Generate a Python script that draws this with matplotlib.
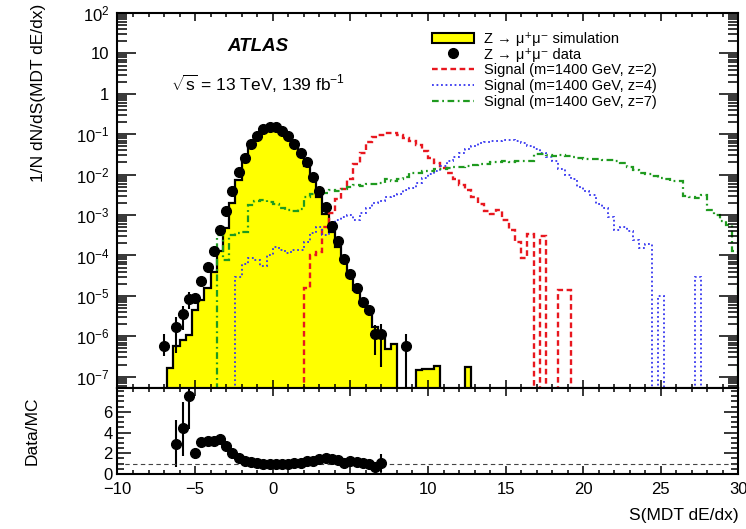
import numpy as np
import matplotlib.pyplot as plt
from matplotlib.ticker import LogLocator, MultipleLocator, FixedLocator, FuncFormatter, NullFormatter
from matplotlib.patches import Patch
from matplotlib.lines import Line2D

plt.rcParams['font.family'] = ['Liberation Sans', 'DejaVu Sans']
plt.rcParams['mathtext.fontset'] = 'custom'
plt.rcParams['mathtext.rm'] = 'Liberation Sans'
plt.rcParams['mathtext.it'] = 'Liberation Sans:italic'
plt.rcParams['mathtext.bf'] = 'Liberation Sans:bold'

# 100 bins from -10 to 30
edges = np.linspace(-10, 30, 101)

# Z -> mumu simulation, first bin starts at S = -6.8
mc_start = -6.8
mc_vals = [1.6e-7, 5.8e-7, 8.1e-7, 1.1e-6, 4.4e-6, 7.8e-6, 1.6e-5, 4.0e-5,
           1.26e-4, 4.7e-4, 2.0e-3, 7.4e-3, 0.0204, 0.049, 0.087, 0.132,
           0.155, 0.155, 0.123, 0.091, 0.054, 0.032, 0.0166, 7.2e-3,
           2.75e-3, 1.07e-3, 3.8e-4, 1.66e-4, 7.7e-5, 2.9e-5, 1.4e-5, 6.8e-6,
           4.7e-6, 1.67e-6, 1.06e-6, 4.8e-7, 6.3e-7, 0, 0, 0,
           1.48e-7, 1.58e-7, 1.58e-7, 1.86e-7, 0, 0, 0, 0, 1.78e-7]

# Z -> mumu data, first bin starts at S = -7.2
data_start = -7.2
data_vals = [5.8e-7, 0, 1.7e-6, 3.6e-6, 8.3e-6, 9.1e-6, 2.4e-5, 5.1e-5,
             1.29e-4, 4.2e-4, 1.29e-3, 4.0e-3, 0.0115, 0.0263, 0.056, 0.091,
             0.132, 0.151, 0.151, 0.120, 0.091, 0.056, 0.035, 0.020,
             8.9e-3, 4.0e-3, 1.62e-3, 5.5e-4, 2.3e-4, 8.1e-5, 3.5e-5, 1.6e-5,
             7.1e-6, 4.5e-6, 1.17e-6, 1.17e-6, 0, 0, 0, 5.8e-7]
data_err_lo = [0.45, 0, 0.77, 0.61, 0.43, 0.28, 0.12, 0.06,
               0.03, 0.02, 0.01, 0.01, 0.01, 0.01, 0.01, 0.01,
               0.01, 0.01, 0.01, 0.01, 0.01, 0.01, 0.01, 0.01,
               0.01, 0.01, 0.02, 0.03, 0.04, 0.06, 0.08, 0.12,
               0.15, 0.2, 0.7, 0.85, 0, 0, 0, 0.999]
data_err_hi = [1.0, 0, 0.79, 0.57, 0.5, 0.2, 0.12, 0.06,
               0.03, 0.02, 0.01, 0.01, 0.01, 0.01, 0.01, 0.01,
               0.01, 0.01, 0.01, 0.01, 0.01, 0.01, 0.01, 0.01,
               0.01, 0.01, 0.02, 0.03, 0.04, 0.06, 0.08, 0.12,
               0.15, 0.2, 0.62, 0.75, 0, 0, 0, 1.0]

# signal m=1400 GeV, z=2
sig2_start = 2.0
sig2_vals = [1.6e-5, 1.0e-4, 1.2e-4, 5.0e-4, 1.1e-3, 2.5e-3, 4.5e-3, 7.9e-3,
             0.018, 0.035, 0.063, 0.085, 0.098, 0.105, 0.105, 0.095,
             0.083, 0.068, 0.054, 0.038, 0.026, 0.019, 0.015, 0.0112,
             7.6e-3, 5.6e-3, 4.2e-3, 2.8e-3, 1.9e-3, 1.26e-3, 1.07e-3, 1.32e-3,
             7.6e-4, 4.2e-4, 2.2e-4, 8.9e-5, 3.4e-4, 0, 3.1e-4, 0,
             0, 1.4e-5, 1.4e-5]

# signal m=1400 GeV, z=4
sig4_start = -2.4
sig4_vals = [2.95e-5, 6.3e-5, 8.9e-5, 7.9e-5, 5.6e-5, 1.0e-4, 1.66e-4, 1.4e-4,
             1.12e-4, 1.4e-4, 1.4e-4, 2.2e-4, 3.5e-4, 5.0e-4, 3.2e-4, 4.5e-4,
             7.6e-4, 8.9e-4, 1.0e-3, 7.6e-4, 1.12e-3, 1.5e-3, 2.0e-3, 2.2e-3,
             2.8e-3, 3.0e-3, 3.4e-3, 4.2e-3, 4.8e-3, 6.3e-3, 8.3e-3, 0.0105,
             0.0126, 0.0166, 0.022, 0.028, 0.034, 0.044, 0.052, 0.060,
             0.065, 0.068, 0.069, 0.071, 0.071, 0.068, 0.060, 0.050,
             0.042, 0.035, 0.028, 0.022, 0.014, 0.010, 7.6e-3, 5.0e-3,
             4.0e-3, 3.2e-3, 1.9e-3, 1.5e-3, 8.9e-4, 4.2e-4, 5.0e-4, 4.0e-4,
             2.4e-4, 1.5e-4, 1.9e-4, 0, 1.0e-5, 0, 0, 0,
             0, 0, 2.95e-5]

# signal m=1400 GeV, z=7
sig7_start = -3.6
sig7_vals = [3.2e-4, 7.9e-5, 3.2e-4, 3.5e-4, 3.8e-4, 1.8e-3, 2.2e-3, 2.3e-3,
             2.1e-3, 1.9e-3, 1.5e-3, 1.3e-3, 1.26e-3, 1.4e-3, 2.8e-3, 3.3e-3,
             3.6e-3, 3.5e-3, 4.2e-3, 4.0e-3, 4.5e-3, 5.0e-3, 5.4e-3, 5.2e-3,
             5.8e-3, 6.0e-3, 6.3e-3, 7.6e-3, 7.1e-3, 7.9e-3, 8.9e-3, 0.0107,
             0.0112, 0.0126, 0.0126, 0.0135, 0.0138, 0.0145, 0.0151, 0.0158,
             0.0166, 0.017, 0.0182, 0.0182, 0.020, 0.0204, 0.022, 0.021,
             0.022, 0.0214, 0.022, 0.032, 0.0316, 0.030, 0.0295, 0.030,
             0.029, 0.027, 0.0257, 0.025, 0.024, 0.0245, 0.023, 0.0234,
             0.022, 0.019, 0.0151, 0.0132, 0.0112, 0.0105, 9.3e-3, 8.5e-3,
             7.8e-3, 7.1e-3, 6.9e-3, 3.0e-3, 2.8e-3, 2.6e-3, 3.2e-3, 1.3e-3,
             9.8e-4, 7.1e-4, 5.6e-4, 1.3e-4]

legend_labels = ['Z → μ⁺μ⁻ simulation', 'Z → μ⁺μ⁻ data',
                 'Signal (m=1400 GeV, z=2)', 'Signal (m=1400 GeV, z=4)',
                 'Signal (m=1400 GeV, z=7)']

TINY = 1e-12


def to_bins(start, vals):
    h = np.zeros(len(edges) - 1)
    i0 = int(round((start - edges[0]) / (edges[1] - edges[0])))
    h[i0:i0 + len(vals)] = vals
    return h


mc = to_bins(mc_start, mc_vals)
data = to_bins(data_start, data_vals)
dlo = to_bins(data_start, data_err_lo)
dhi = to_bins(data_start, data_err_hi)
sig2 = to_bins(sig2_start, sig2_vals)
sig4 = to_bins(sig4_start, sig4_vals)
sig7 = to_bins(sig7_start, sig7_vals)
centers = 0.5 * (edges[1:] + edges[:-1])

red = '#e8171f'
blue = '#3535f0'
green = '#1f9a1f'
red_ls = (0, (2.4, 1.5))
blue_ls = (0, (1, 1.5))
green_ls = (0, (3, 1.6, 0.8, 1.6))

fig = plt.figure(figsize=(7.46, 5.29), dpi=100)
ax1 = fig.add_axes([0.1575, 0.2665, 0.8324, 0.7089])
ax2 = fig.add_axes([0.1575, 0.1040, 0.8324, 0.1626], sharex=ax1)

ax1.set_yscale('log')
mcp = np.where(mc > 0, mc, TINY)
ax1.stairs(mcp, edges, fill=True, color='#ffff00', baseline=TINY)
ax1.stairs(mcp, edges, color='black', lw=1.6, baseline=TINY)

ax1.stairs(np.where(sig2 > 0, sig2, TINY), edges, baseline=TINY,
           color=red, lw=1.7, ls=red_ls)
ax1.stairs(np.where(sig4 > 0, sig4, TINY), edges, baseline=TINY,
           color=blue, lw=1.3, ls=blue_ls)
ax1.stairs(np.where(sig7 > 0, sig7, TINY), edges, baseline=TINY,
           color=green, lw=1.6, ls=green_ls)

m = data > 0
ax1.errorbar(centers[m], data[m], yerr=[data[m] * dlo[m], data[m] * dhi[m]],
             fmt='o', color='black', ms=7, elinewidth=1.5, capsize=0)

ax1.set_xlim(-10, 30)
ax1.set_ylim(10 ** -7.28, 100)

ax1.yaxis.set_major_locator(LogLocator(base=10, numticks=30))
ax1.yaxis.set_minor_locator(LogLocator(base=10, subs=np.arange(2, 10) * 1.0, numticks=200))


def ylab(v, pos):
    e = int(round(np.log10(v)))
    if e == 0:
        return '1'
    if e == 1:
        return '10'
    return r'$\mathregular{10^{%d}}$' % e


ax1.yaxis.set_major_formatter(FuncFormatter(ylab))
ax1.yaxis.set_minor_formatter(NullFormatter())
ax1.xaxis.set_major_locator(MultipleLocator(5))
ax1.xaxis.set_minor_locator(MultipleLocator(1))
ax1.tick_params(axis='both', which='both', direction='in', top=True, right=True, width=1.1)
ax1.tick_params(axis='y', which='major', length=14, labelsize=12, pad=6)
ax1.tick_params(axis='y', which='minor', length=7)
ax1.tick_params(axis='x', which='major', length=6, labelbottom=False)
ax1.tick_params(axis='x', which='minor', length=3)

ax1.set_ylabel('1/N dN/dS(MDT dE/dx)', fontsize=12.5, loc='top')
ax1.yaxis.set_label_coords(-0.115, 1.025)

ax1.text(0.226, 0.912, 'ATLAS', transform=ax1.transAxes, ha='center', va='center',
         fontsize=13.5, fontweight='bold', fontstyle='italic')
ax1.text(0.226, 0.81, r'$\mathregular{\sqrt{s}}$ = 13 TeV, 139 fb$\mathregular{^{-1}}$',
         transform=ax1.transAxes, ha='center', va='center', fontsize=12.5)

handles = [Patch(facecolor='#ffff00', edgecolor='black', lw=1.5),
           Line2D([], [], marker='o', color='black', ls='none', ms=7),
           Line2D([], [], color=red, lw=1.7, ls=red_ls),
           Line2D([], [], color=blue, lw=1.3, ls=blue_ls),
           Line2D([], [], color=green, lw=1.6, ls=green_ls)]
ax1.legend(handles, legend_labels, loc='upper left', bbox_to_anchor=(0.506, 0.95),
           frameon=False, fontsize=10.5, handlelength=2.9, handletextpad=0.7,
           labelspacing=0.12, borderpad=0, borderaxespad=0)

# ratio panel
r = (data > 0) & (mc > 0)
ratio = data[r] / mc[r]
ax2.errorbar(centers[r], ratio, yerr=[ratio * dlo[r], ratio * dhi[r]],
             fmt='o', color='black', ms=7, elinewidth=1.5, capsize=0)
ax2.axhline(1, color='#444444', lw=0.8, ls=(0, (4, 3)))
ax2.set_ylim(0, 8.3)
ax2.yaxis.set_major_locator(FixedLocator([0, 2, 4, 6]))
ax2.yaxis.set_minor_locator(MultipleLocator(0.5))
ax2.tick_params(axis='both', which='both', direction='in', top=True, right=True, width=1.1)
ax2.tick_params(axis='y', which='major', length=10, labelsize=12)
ax2.tick_params(axis='y', which='minor', length=5)
ax2.tick_params(axis='x', which='major', length=6, labelsize=12, pad=6)
ax2.tick_params(axis='x', which='minor', length=3)
ax2.set_ylabel('Data/MC', fontsize=12.5)
ax2.yaxis.set_label_coords(-0.125, 0.5)
ax2.set_xlabel('S(MDT dE/dx)', fontsize=12.5)
ax2.xaxis.set_label_coords(1.0, -0.48)
ax2.xaxis.label.set_ha('right')
ax2.xaxis.label.set_va('center')

for ax in (ax1, ax2):
    for s in ax.spines.values():
        s.set_linewidth(1.5)

fig.savefig('out.png', dpi=100)
